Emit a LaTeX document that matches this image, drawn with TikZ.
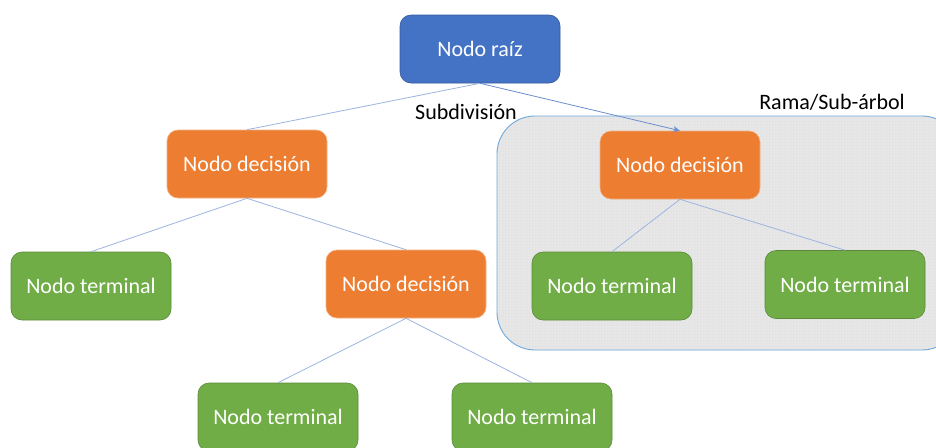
\documentclass[tikz,border=0pt]{standalone}
\usepackage{fontspec}
\setmainfont{Carlito}
\usetikzlibrary{arrows.meta,patterns}
\definecolor{rootblue}{HTML}{4472C4}
\definecolor{decorange}{HTML}{ED7D31}
\definecolor{termgreen}{HTML}{70AD47}
\definecolor{edgeblue}{HTML}{9DB4E0}
\definecolor{boxgray}{HTML}{E4E4E4}
\definecolor{boxline}{HTML}{6FA8DC}
\tikzset{
  base/.style={rounded corners=11pt, minimum width=160pt, minimum height=68pt,
    text=white, font=\fontsize{22}{26}\selectfont, inner sep=0pt, line width=0.6pt},
  rootbox/.style={base, fill=rootblue, draw=rootblue!80!black},
  decbox/.style={base, fill=decorange, draw=decorange!60!white},
  termbox/.style={base, fill=termgreen, draw=termgreen!80!black},
  link/.style={draw=edgeblue, line width=0.8pt},
  arrowlink/.style={draw=rootblue!80!white, line width=0.8pt, -{Stealth[length=7pt,width=6pt]}},
  lbl/.style={font=\fontsize{22}{26}\selectfont, text=black, inner sep=0pt}
}
\begin{document}
\begin{tikzpicture}[x=1pt,y=-1pt]
\useasboundingbox (0,0) rectangle (936,447);
\clip (0,0) rectangle (936,447);
\fill[white] (0,0) rectangle (936,447);
% sub-tree region
\path[fill=boxgray, rounded corners=38pt] (497,116) rectangle (960,350);
\path[pattern=dots, pattern color=white!92!boxgray, rounded corners=38pt] (497,116) rectangle (960,350);
\draw[boxline, line width=0.9pt, rounded corners=38pt] (497,116) rectangle (960,350);
% nodes
\node[rootbox] (root) at (480,49) {Nodo raíz};
\node[decbox] (decL) at (247,164) {Nodo decisión};
\node[decbox] (decR) at (680,165) {Nodo decisión};
\node[termbox] (termA) at (91,286) {Nodo terminal};
\node[decbox] (decM) at (406,284) {Nodo decisión};
\node[termbox] (termB) at (612,286) {Nodo terminal};
\node[termbox] (termC) at (845,284.5) {Nodo terminal};
\node[termbox] (termD) at (278,417) {Nodo terminal};
\node[termbox] (termE) at (532,417) {Nodo terminal};
% labels
\node[lbl] (sub) at (466,112) {Subdivisión};
\node[lbl] (rama) at (832,102) {Rama/Sub-árbol};
% connectors
\draw[link] (root.south) -- (decL.north);
\draw[arrowlink] (root.south) -- (decR.north);
\draw[link] (decL.south) -- (termA.north);
\draw[link] (decL.south) -- (decM.north);
\draw[link] (decR.south) -- (termB.north);
\draw[link] (decR.south) -- (termC.north);
\draw[link] (decM.south) -- (termD.north);
\draw[link] (decM.south) -- (termE.north);
\end{tikzpicture}
\end{document}
